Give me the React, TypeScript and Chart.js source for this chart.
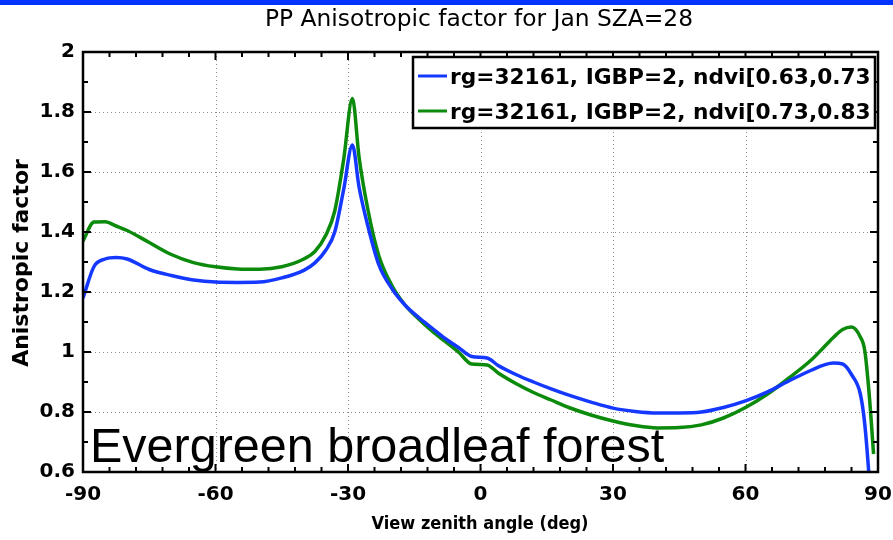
import React, { useEffect, useRef } from "react";
import { Chart, registerables } from "chart.js";

Chart.register(...registerables);

const titleText = "PP Anisotropic factor for Jan SZA=28";
const xAxisTitle = "View zenith angle (deg)";
const yAxisTitle = "Anistropic factor";
const annotationText = "Evergreen broadleaf forest";

const seriesLabels = [
  "rg=32161, IGBP=2, ndvi[0.63,0.73",
  "rg=32161, IGBP=2, ndvi[0.73,0.83",
];

const angles = [
  -90, -87.5, -85, -82.5, -80, -75, -70, -65, -60, -55, -50, -45, -40, -37.5,
  -35, -33, -31, -29, -27.5, -25.5, -23, -20, -17, -14, -11, -8, -5, -2, 1.5,
  4, 8, 12, 16, 20, 25, 30, 35, 40, 45, 50, 55, 60, 65, 70, 75, 78, 80, 82,
  84, 86, 87, 88, 89,
];

const blueValues = [
  1.18, 1.285, 1.31, 1.315, 1.31, 1.275, 1.255, 1.24, 1.233, 1.232, 1.233,
  1.247, 1.272, 1.297, 1.34, 1.4, 1.54, 1.69, 1.55, 1.42, 1.29, 1.21, 1.155,
  1.115, 1.08, 1.045, 1.015, 0.985, 0.98, 0.955, 0.925, 0.9, 0.877, 0.856,
  0.833, 0.813, 0.802, 0.797, 0.797, 0.8, 0.815, 0.837, 0.867, 0.905, 0.94,
  0.958, 0.963, 0.96, 0.925, 0.86, 0.76, 0.58, 0.35,
];

const greenValues = [
  1.37, 1.433, 1.434, 1.42, 1.405, 1.365, 1.325, 1.298, 1.284, 1.277, 1.276,
  1.284, 1.31, 1.335, 1.39, 1.47, 1.64, 1.845, 1.65, 1.475, 1.32, 1.22, 1.155,
  1.11, 1.07, 1.035, 1.0, 0.96, 0.957, 0.93, 0.895, 0.865, 0.84, 0.815, 0.79,
  0.77, 0.755, 0.747, 0.748, 0.757, 0.78, 0.815, 0.86, 0.915, 0.975, 1.02,
  1.05, 1.075, 1.083, 1.05, 1.005, 0.86, 0.66,
];

const xMajorTicks = [-90, -60, -30, 0, 30, 60, 90];
const yMajorTicks = [0.6, 0.8, 1, 1.2, 1.4, 1.6, 1.8, 2];

const BLUE = "#1438ff";
const GREEN = "#0b8a0b";

const decorPlugin = {
  id: "decor",
  beforeDraw(chart: any) {
    const ctx = chart.ctx;
    ctx.save();
    ctx.fillStyle = "#ffffff";
    ctx.fillRect(0, 0, chart.width, chart.height);
    ctx.fillStyle = "#0033ff";
    ctx.fillRect(0, 0, chart.width, 5);
    ctx.restore();
  },
  beforeDatasetsDraw(chart: any) {
    const ctx = chart.ctx;
    const a = chart.chartArea;
    const xs = chart.scales.x;
    const ys = chart.scales.y;
    ctx.save();
    ctx.strokeStyle = "#8a8a8a";
    ctx.lineWidth = 1;
    ctx.setLineDash([1, 3]);
    xMajorTicks.slice(1, -1).forEach((v) => {
      const px = Math.round(xs.getPixelForValue(v)) + 0.5;
      ctx.beginPath();
      ctx.moveTo(px, a.top);
      ctx.lineTo(px, a.bottom);
      ctx.stroke();
    });
    yMajorTicks.slice(1, -1).forEach((v) => {
      const py = Math.round(ys.getPixelForValue(v)) + 0.5;
      ctx.beginPath();
      ctx.moveTo(a.left, py);
      ctx.lineTo(a.right, py);
      ctx.stroke();
    });
    ctx.restore();
  },
  afterDatasetsDraw(chart: any) {
    const ctx = chart.ctx;
    const a = chart.chartArea;
    const xs = chart.scales.x;
    const ys = chart.scales.y;
    ctx.save();

    // annotation text
    ctx.fillStyle = "#000";
    ctx.font = "48.5px 'Liberation Sans', Arial, sans-serif";
    ctx.textAlign = "left";
    ctx.textBaseline = "alphabetic";
    ctx.fillText(annotationText, a.left + 7, a.bottom - 10);

    // ticks
    ctx.strokeStyle = "#000";
    ctx.lineWidth = 2;
    ctx.setLineDash([]);
    for (let v = -90; v <= 90; v += 6) {
      const major = v % 30 === 0;
      const len = major ? 8 : 5;
      const px = xs.getPixelForValue(v);
      ctx.beginPath();
      ctx.moveTo(px, a.bottom);
      ctx.lineTo(px, a.bottom - len);
      ctx.moveTo(px, a.top);
      ctx.lineTo(px, a.top + len);
      ctx.stroke();
    }
    for (let i = 6; i <= 20; i++) {
      const v = i / 10;
      const major = i % 2 === 0;
      const len = major ? 8 : 5;
      const py = ys.getPixelForValue(v);
      ctx.beginPath();
      ctx.moveTo(a.left, py);
      ctx.lineTo(a.left + len, py);
      ctx.moveTo(a.right, py);
      ctx.lineTo(a.right - len, py);
      ctx.stroke();
    }
    // frame
    ctx.lineWidth = 2.5;
    ctx.strokeRect(a.left, a.top, a.right - a.left, a.bottom - a.top);

    // legend
    const lx = 413, ly = 57, lw = 462, lh = 71;
    ctx.fillStyle = "#fff";
    ctx.fillRect(lx, ly, lw, lh);
    ctx.lineWidth = 2.5;
    ctx.strokeStyle = "#000";
    ctx.strokeRect(lx, ly, lw, lh);
    ctx.save();
    ctx.beginPath();
    ctx.rect(lx, ly, lw - 2, lh);
    ctx.clip();
    chart.data.datasets.forEach((ds: any, i: number) => {
      const cy = ly + 19 + i * 35;
      ctx.strokeStyle = ds.borderColor;
      ctx.lineWidth = 3;
      ctx.beginPath();
      ctx.moveTo(lx + 5, cy);
      ctx.lineTo(lx + 34, cy);
      ctx.stroke();
      ctx.fillStyle = "#000";
      ctx.font = "bold 21.7px 'DejaVu Sans', sans-serif";
      ctx.textBaseline = "middle";
      ctx.textAlign = "left";
      ctx.fillText(ds.label, lx + 37, cy + 2);
    });
    ctx.restore();

    // title
    ctx.fillStyle = "#000";
    ctx.font = "23px 'DejaVu Sans Condensed', 'DejaVu Sans', sans-serif";
    ctx.textAlign = "center";
    ctx.textBaseline = "middle";
    const tw = ctx.measureText(titleText).width;
    ctx.save();
    ctx.translate(479, 20);
    ctx.scale(428 / tw, 1);
    ctx.fillText(titleText, 0, 0);
    ctx.restore();

    // axis titles
    ctx.font = "bold 18px 'DejaVu Sans Condensed', 'DejaVu Sans', sans-serif";
    ctx.fillText(xAxisTitle, 480, 524);
    ctx.save();
    ctx.translate(22, 263);
    ctx.rotate(-Math.PI / 2);
    ctx.font = "bold 22px 'DejaVu Sans', sans-serif";
    ctx.fillText(yAxisTitle, 0, 0);
    ctx.restore();

    ctx.restore();
  },
};

export default function App() {
  const canvasRef = useRef<HTMLCanvasElement | null>(null);

  useEffect(() => {
    if (!canvasRef.current) return;
    const chart = new Chart(canvasRef.current, {
      type: "line",
      data: {
        datasets: [
          {
            label: seriesLabels[0],
            data: angles.map((x, i) => ({ x, y: blueValues[i] })),
            borderColor: BLUE,
            backgroundColor: BLUE,
            borderWidth: 3.5,
            pointRadius: 0,
            cubicInterpolationMode: "monotone",
          },
          {
            label: seriesLabels[1],
            data: angles.map((x, i) => ({ x, y: greenValues[i] })),
            borderColor: GREEN,
            backgroundColor: GREEN,
            borderWidth: 3.5,
            pointRadius: 0,
            cubicInterpolationMode: "monotone",
          },
        ],
      },
      options: {
        animation: false,
        responsive: false,
        devicePixelRatio: 1,
        layout: { padding: { left: 0, right: 15, top: 52, bottom: 0 } },
        plugins: {
          legend: { display: false },
          title: { display: false },
          tooltip: { enabled: false },
        },
        scales: {
          x: {
            type: "linear",
            min: -90,
            max: 90,
            afterFit: (s: any) => {
              s.height = 68;
              s.paddingLeft = 0;
              s.paddingRight = 0;
            },
            afterBuildTicks: (s: any) => {
              s.ticks = xMajorTicks.map((v) => ({ value: v }));
            },
            grid: { display: false, drawTicks: false },
            border: { display: false },
            ticks: {
              padding: 11,
              color: "#000",
              font: { family: "'DejaVu Sans', sans-serif", size: 20, weight: "bold" },
              callback: (v: any) => String(v),
              maxRotation: 0,
            },
          },
          y: {
            type: "linear",
            min: 0.6,
            max: 2,
            afterFit: (s: any) => {
              s.width = 83;
              s.paddingTop = 0;
              s.paddingBottom = 0;
            },
            afterBuildTicks: (s: any) => {
              s.ticks = yMajorTicks.map((v) => ({ value: v }));
            },
            grid: { display: false, drawTicks: false },
            border: { display: false },
            ticks: {
              padding: 8,
              color: "#000",
              font: { family: "'DejaVu Sans', sans-serif", size: 20, weight: "bold" },
              callback: (v: any) => String(Number(Number(v).toFixed(1))),
            },
          },
        },
      },
      plugins: [decorPlugin],
    } as any);
    return () => chart.destroy();
  }, []);

  return (
    <div style={{ position: "fixed", left: 0, top: 0, width: 893, height: 540, background: "#fff" }}>
      <canvas ref={canvasRef} width={893} height={540} style={{ display: "block" }} />
    </div>
  );
}
